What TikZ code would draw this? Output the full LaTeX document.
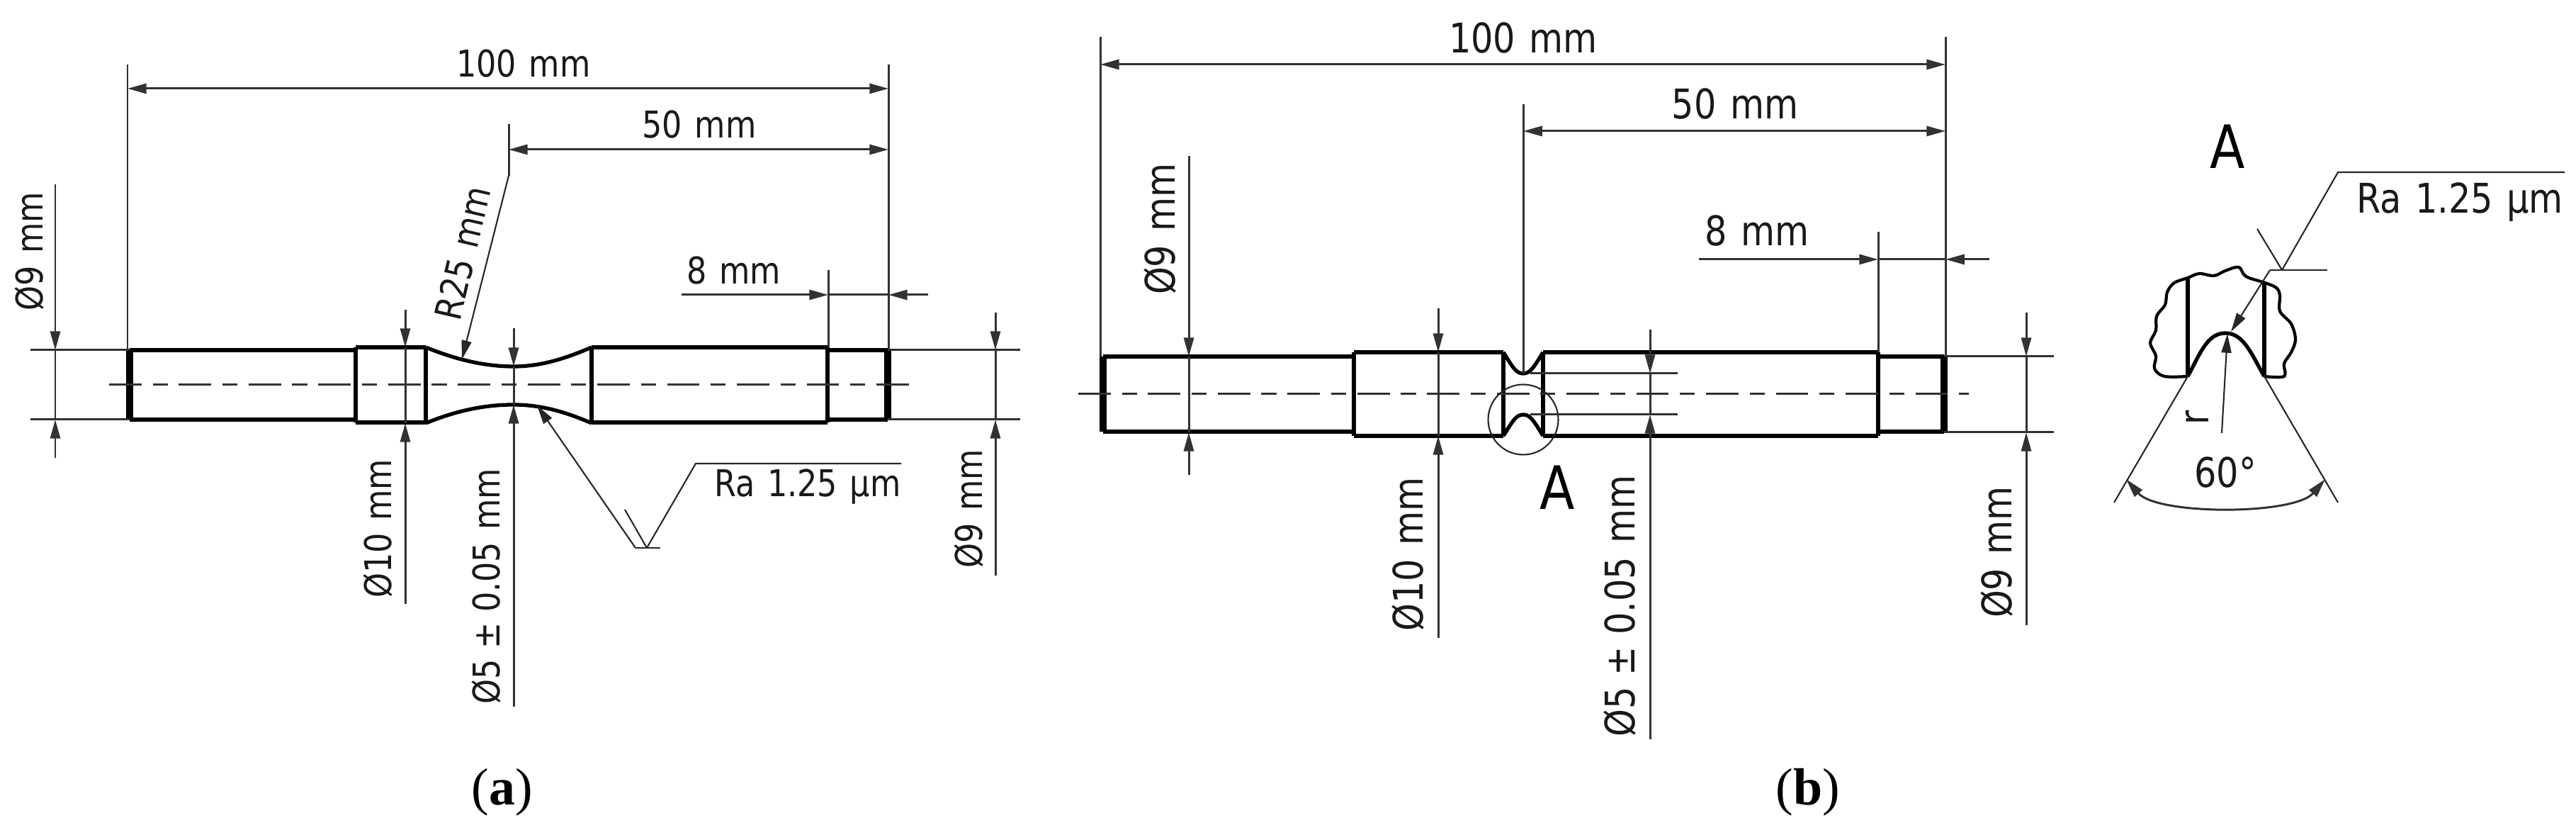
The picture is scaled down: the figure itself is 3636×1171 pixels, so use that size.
\documentclass[tikz,border=0pt]{standalone}
\usepackage{fontspec}
\setmainfont{Liberation Serif}
\newfontfamily\dimfamily[FakeStretch=0.95,WordSpace=1.25]{DejaVu Sans Condensed}
\usetikzlibrary{arrows.meta}
\definecolor{mythin}{RGB}{50,50,50}
\newcommand*{\mytextstyle}{\dimfamily\fontsize{14.8}{16}\selectfont\color{black!90}}
\newcommand*{\mylargestyle}{\dimfamily\fontsize{16.4}{18}\selectfont\color{black!90}}
\tikzset{
   outline/.style    = {black, line width = 1.5pt, line join = miter},
   endline/.style    = {black, line width = 2.6pt},
   thinline/.style   = {mythin, line width = 0.85pt},
   leaderline/.style = {black!85, line width = 0.6pt},
   centerline/.style = {mythin, line width = 0.85pt,
                        dash pattern = on 13pt off 4.5pt on 6pt off 4.5pt},
   tip/.style        = {-{Triangle[length=7.6pt,width=4pt]}},
   tips/.style       = {{Triangle[length=7.6pt,width=4pt]}-{Triangle[length=7.6pt,width=4pt]}},
   dimtext/.style    = {font = \mytextstyle, inner sep = 0pt},
   largetext/.style  = {font = \mylargestyle, inner sep = 0pt},
   marktext/.style   = {font = \dimfamily\fontsize{24}{26}\selectfont, inner sep = 0pt},
   caption/.style    = {font = \fontsize{21}{24}\selectfont, inner sep = 0pt}
}
\newcommand{\diamdim}[5]{%
   % x, free top end, upper tip, lower tip, free bottom end
   \draw[thinline] (#1,#3) -- (#1,#4);
   \draw[thinline,tip] (#1,#2) -- (#1,#3);
   \draw[thinline,tip] (#1,#5) -- (#1,#4);
}
\newcommand{\stepped}[9]{%
   % left end, collar left, collar right, section left, section right,
   % right end, collar top, shaft top, centre line y
   \draw[outline] (#1,#8) -- (#2,#8);
   \draw[outline] (#5,#8) -- (#6,#8);
   \draw[outline] (#2,#7) -- (#3,#7);
   \draw[outline] (#4,#7) -- (#5,#7);
   \draw[endline] (#1,#8) -- (#1,2*#9-#8);
   \draw[endline] (#6,#8) -- (#6,2*#9-#8);
   \draw[outline] (#1,2*#9-#8) -- (#2,2*#9-#8);
   \draw[outline] (#5,2*#9-#8) -- (#6,2*#9-#8);
   \draw[outline] (#2,2*#9-#7) -- (#3,2*#9-#7);
   \draw[outline] (#4,2*#9-#7) -- (#5,2*#9-#7);
   \foreach \xstep in {#2,#3,#4,#5}
      \draw[outline] (\xstep,#7) -- (\xstep,2*#9-#7);
}

\begin{document}
\begin{tikzpicture}[x=0.01cm,y=-0.01cm]
   \useasboundingbox (0,0) rectangle (3636,1171);

   % part a
   \stepped{183}{502}{601}{835}{1168}{1253}{490}{494}{543}
   \draw[outline] (601,490) .. controls (650,510) and (690,517) .. (725,517)
                            .. controls (765,517) and (800,505) .. (835,490);
   \draw[outline] (601,597) .. controls (650,577) and (690,571) .. (725,571)
                            .. controls (765,571) and (800,582) .. (835,597);
   \draw[centerline] (154,543) -- (1283,543);

   \draw[thinline] (43,494) -- (183,494);
   \draw[thinline] (43,592) -- (183,592);
   \draw[thinline] (1253,494) -- (1440,494);
   \draw[thinline] (1253,592) -- (1440,592);
   \draw[thinline] (180,91) -- (180,494);
   \draw[thinline] (1254,91) -- (1254,494);
   \draw[thinline] (1169,381) -- (1169,490);
   \draw[thinline] (718,175) -- (718,248);

   \draw[thinline,tips] (180,125) -- (1254,125);
   \draw[thinline,tips] (718,211) -- (1254,211);
   \draw[thinline,tip] (962,416) -- (1169,416);
   \draw[thinline,tip] (1310,416) -- (1254,416);
   \draw[thinline] (1169,416) -- (1254,416);
   \draw[leaderline,tip] (718,248) -- (652,507);

   \diamdim{78}{260}{494}{592}{646}
   \diamdim{572}{437}{490}{597}{852}
   \diamdim{725}{463}{517}{571}{997}
   \diamdim{1405}{441}{494}{592}{812}

   \draw[leaderline,tip] (897,773) -- (758,572);
   \draw[leaderline] (882,719) -- (913,773);
   \draw[leaderline] (897,773) -- (932,773);
   \draw[leaderline] (913,773) -- (982,654) -- (1272,654);

   \node[dimtext] (hundreda) at (739,90) {100 mm};
   \node[dimtext] (fiftya) at (987,176) {50 mm};
   \node[dimtext] (eighta) at (1036,382) {8 mm};
   \node[dimtext,rotate=77] (radiusa) at (653,357) {R25 mm};
   \node[dimtext,rotate=90] (ninelefta) at (42,355) {Ø9 mm};
   \node[dimtext,rotate=90] (tena) at (534,746) {Ø10 mm};
   \node[dimtext,rotate=90] (fivea) at (687,827) {Ø5\;±\;0.05 mm};
   \node[dimtext,rotate=90] (nineright) at (1368,718) {Ø9 mm};
   \node[dimtext] (roughnessa) at (1140,687) {Ra 1.25 µm};
   \node[caption] (captiona) at (709,1118) {(\textbf{a})};

   % part b
   \stepped{1557}{1911}{2122}{2178}{2651}{2744}{497}{503}{556}
   \draw[outline] (2122,497) .. controls (2135,518) and (2140,527) .. (2150,527)
                             .. controls (2160,527) and (2165,518) .. (2178,497);
   \draw[outline] (2122,615) .. controls (2135,594) and (2140,585) .. (2150,585)
                             .. controls (2160,585) and (2165,594) .. (2178,615);
   \draw[centerline] (1522,556) -- (2779,556);
   \draw[leaderline] (2150,592) circle (49.5 and 49.5);

   \draw[thinline] (2744,503) -- (2899,503);
   \draw[thinline] (2744,610) -- (2899,610);
   \draw[thinline] (2160,527) -- (2368,527);
   \draw[thinline] (2160,585) -- (2368,585);
   \draw[thinline] (1553,52) -- (1553,503);
   \draw[thinline] (2746,52) -- (2746,503);
   \draw[thinline] (2150,147) -- (2150,527);
   \draw[thinline] (2651,327) -- (2651,497);

   \draw[thinline,tips] (1553,91) -- (2746,91);
   \draw[thinline,tips] (2150,185) -- (2746,185);
   \draw[thinline,tip] (2398,366) -- (2651,366);
   \draw[thinline,tip] (2808,366) -- (2746,366);
   \draw[thinline] (2651,366) -- (2746,366);

   \diamdim{1678}{220}{503}{610}{670}
   \diamdim{2030}{435}{497}{615}{900}
   \diamdim{2329}{465}{527}{585}{1043}
   \diamdim{2860}{441}{503}{610}{882}

   \node[largetext] (hundredb) at (2150,54) {100 mm};
   \node[largetext] (fiftyb) at (2449,147) {50 mm};
   \node[largetext] (eightb) at (2480,326) {8 mm};
   \node[largetext,rotate=90] (nineleftb) at (1638,323) {Ø9 mm};
   \node[largetext,rotate=90] (tenb) at (1988,782) {Ø10 mm};
   \node[largetext,rotate=90] (fiveb) at (2287,855) {Ø5\;±\;0.05 mm};
   \node[largetext,rotate=90] (ninerightb) at (2818,779) {Ø9 mm};
   \node[marktext] (markb) at (2198,688) {A};
   \node[caption] (captionb) at (2552,1118) {(\textbf{b})};

   % detail A
   \draw[outline,line width=1.2pt] plot[smooth,tension=0.55] coordinates {
      (3088,531) (3055,531) (3041,520) (3043,502) (3035,484) (3043,466)
      (3044,446) (3056,430) (3059,412) (3069,399) (3088,392) (3104,386)
      (3125,389) (3141,382) (3160,377) (3170,390) (3197,399) (3213,406)
      (3218,417) (3218,439) (3234,457) (3240,479) (3234,497) (3224,513)
      (3224,531) (3196,531)};
   \draw[outline] (3088,392) -- (3088,531);
   \draw[outline] (3196,399) -- (3196,531);
   \draw[outline] (3088,531) .. controls (3105,500) and (3115,470) .. (3141,470)
                             .. controls (3167,470) and (3178,500) .. (3196,531);

   \draw[leaderline] (3088,531) -- (2984,709);
   \draw[leaderline] (3196,531) -- (3300,709);
   \draw[thinline,tips] (3001,676) .. controls (3045,727) and (3238,727) .. (3282,676);
   \draw[leaderline,tip] (3136,611) -- (3144,471);
   \draw[leaderline,tip] (3204,381) -- (3149,468);
   \draw[leaderline] (3186,323) -- (3221,381);
   \draw[leaderline] (3204,381) -- (3285,381);
   \draw[leaderline] (3221,381) -- (3300,243) -- (3620,243);

   \node[marktext] (markdetail) at (3144,207) {A};
   \node[largetext] (roughnessb) at (3472,285) {Ra 1.25 µm};
   \node[largetext] (angle) at (3141,667) {60°};
   \node[largetext,rotate=90] (radiusb) at (3101,589) {r};
\end{tikzpicture}
\end{document}
